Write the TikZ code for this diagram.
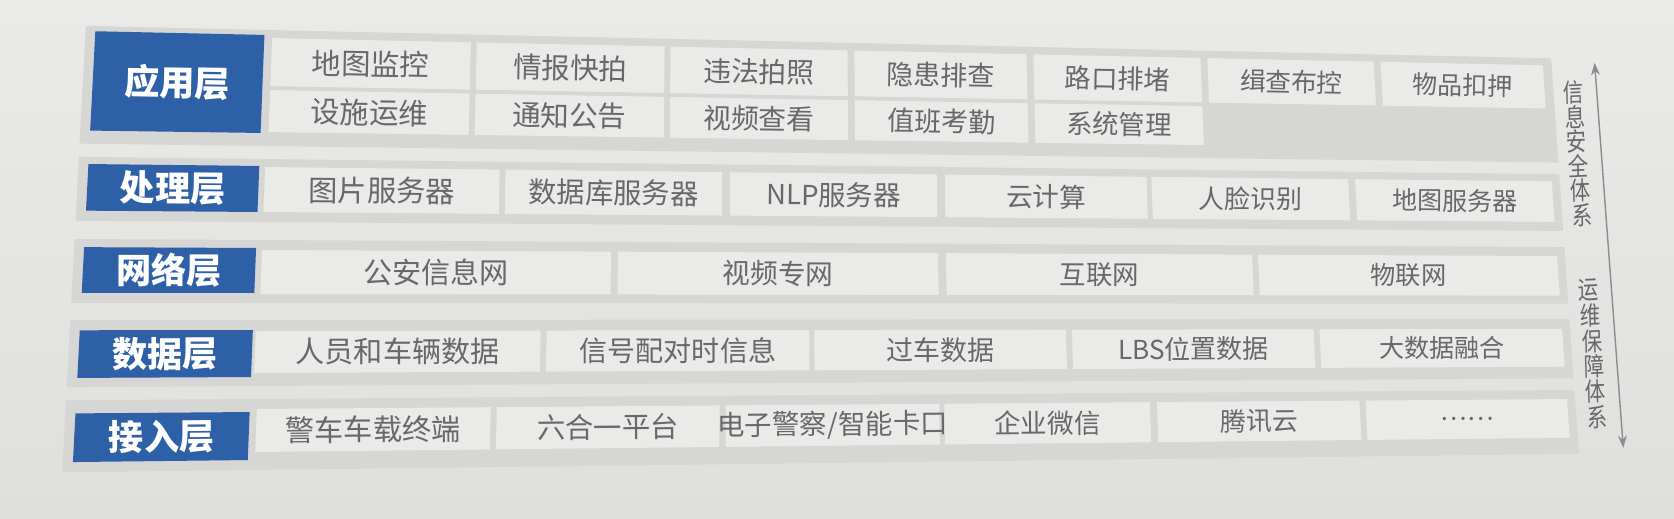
\documentclass[tikz,border=0pt]{standalone}
\usepackage{fontspec}
\newfontfamily\cjk{Noto Sans CJK SC}
\usetikzlibrary{arrows.meta}
\definecolor{pagetop}{HTML}{EAEAE8}
\definecolor{pagebot}{HTML}{DFDFDD}
\definecolor{stripc}{HTML}{D6D6D4}
\definecolor{cellc}{HTML}{EAEAE9}
\definecolor{lblue}{HTML}{2E60A8}
\definecolor{ctext}{HTML}{686868}
\definecolor{arrowgray}{HTML}{8C8C8C}

\pgfkeys{/pcs/.cd, x/.store in=\pcsx, y/.store in=\pcsy}
\tikzdeclarecoordinatesystem{p}{%
  \pgfkeys{/pcs/.cd,x=0,y=0,#1}%
  \pgfmathsetmacro\pcsS{(\pcsx-80)/1520}%
  \pgfmathsetmacro\pcsX{\pcsx+(\pcsy-250)*(-0.053+0.119*\pcsS)}%
  \pgfmathsetmacro\pcsT{(\pcsx-260)/1290}%
  \pgfmathsetmacro\pcsY{\pcsy+\pcsT*(31-0.1*\pcsy)}%
  \pgfpointxy{\pcsX}{\pcsY}%
}

\tikzset{
  cellfill/.style={fill=cellc},
  stripfill/.style={fill=stripc},
  bluefill/.style={fill=lblue},
  celltxt/.style={font=\cjk\fontsize{15.1pt}{18pt}\selectfont, text=ctext, inner sep=0pt},
  lbltxt/.style={font=\cjk\bfseries\fontsize{20pt}{24pt}\selectfont, text=white, inner sep=0pt},
  sidetxt/.style={font=\cjk\fontsize{14.5pt}{17pt}\selectfont, text=ctext, inner sep=0pt, xscale=0.8, rotate=2},
  arr/.style={draw=arrowgray, line width=0.8pt, arrows={Stealth[length=7pt,width=5pt]-Stealth[length=7pt,width=5pt]}}
}

\newcommand\pquad[5]{\fill[#1] (p cs:x=#2,y=#3) -- (p cs:x=#4,y=#3) -- (p cs:x=#4,y=#5) -- (p cs:x=#2,y=#5) -- cycle;}
\newcommand\celltext[5]{%
  \pgfmathsetmacro\tang{-atan((31-0.1*#3)/1290)}%
  \pgfmathsetmacro\tsc{(29.5-6*((#2-80)/1520-0.19))/26.7}%
  \node[#5, rotate=\tang, scale=\tsc] (#1) at (p cs:x=#2,y=#3) {#4};}
\newcommand\cellbox[6]{%
  \pquad{cellfill}{#2}{#3}{#4}{#5}%
  \pgfmathsetmacro\ccx{(#2+#4)/2}\pgfmathsetmacro\ccy{(#3+#5)/2}%
  \celltext{#1}{\ccx}{\ccy}{#6}{celltxt}}
\newcommand\layerlabel[4]{%
  \pquad{bluefill}{84}{#2}{256}{#3}%
  \pgfmathsetmacro\lcy{(#2+#3)/2}%
  \pgfmathsetmacro\tang{-atan((31-0.1*\lcy)/1290)}%
  \node[lbltxt, rotate=\tang] (#1) at (p cs:x=170,y=\lcy) {#4};}

\begin{document}
\begin{tikzpicture}[x=0.02cm, y=-0.02cm]
\useasboundingbox (0,0) rectangle (1674,518);
\shade[top color=pagetop, bottom color=pagebot] (0,0) rectangle (1674,518);

% layer strips
\pquad{stripfill}{74}{30}{1565}{146}
\pquad{stripfill}{74}{159}{1565}{222}
\pquad{stripfill}{74}{240}{1565}{303}
\pquad{stripfill}{74}{320}{1565}{386}
\pquad{stripfill}{74}{399}{1565}{470}

% layer labels
\layerlabel{L1}{35}{133}{应用层}
\layerlabel{L2}{166}{212}{处理层}
\layerlabel{L3}{248}{293}{网络层}
\layerlabel{L4}{330}{377}{数据层}
\layerlabel{L5}{412}{460}{接入层}

% application layer
\cellbox{a1}{264}{38}{466}{86}{地图监控}
\cellbox{a2}{472}{38}{663}{86}{情报快拍}
\cellbox{a3}{669}{38}{849}{86}{违法拍照}
\cellbox{a4}{856}{38}{1031}{86}{隐患排查}
\cellbox{a5}{1038}{38}{1208}{86}{路口排堵}
\cellbox{a6}{1215}{38}{1384}{86}{缉查布控}
\cellbox{a7}{1391}{38}{1556}{86}{物品扣押}
\cellbox{b1}{264}{90}{466}{132}{设施运维}
\cellbox{b2}{472}{90}{663}{132}{通知公告}
\cellbox{b3}{669}{90}{849}{132}{视频查看}
\cellbox{b4}{856}{90}{1031}{132}{值班考勤}
\cellbox{b5}{1038}{90}{1208}{132}{系统管理}

% processing layer
\cellbox{c1}{262}{167}{498}{212}{图片服务器}
\cellbox{c2}{504}{167}{722}{212}{数据库服务器}
\cellbox{c3}{730}{167}{938}{212}{NLP服务器}
\cellbox{c4}{946}{167}{1149}{212}{云计算}
\cellbox{c5}{1154}{167}{1352}{212}{人脸识别}
\cellbox{c6}{1359}{167}{1557}{212}{地图服务器}

% network layer
\cellbox{d1}{262}{250}{611}{294}{公安信息网}
\cellbox{d2}{618}{250}{938}{294}{视频专网}
\cellbox{d3}{946}{250}{1252}{294}{互联网}
\cellbox{d4}{1258}{250}{1557}{294}{物联网}

% data layer
\cellbox{e1}{259}{331}{542}{373}{人员和车辆数据}
\cellbox{e2}{548}{331}{809}{373}{信号配对时信息}
\cellbox{e3}{814}{331}{1064}{373}{过车数据}
\cellbox{e4}{1070}{331}{1310}{373}{LBS位置数据}
\cellbox{e5}{1316}{331}{1557}{373}{大数据融合}

% access layer
\cellbox{f1}{263}{409}{494}{452}{警车车载终端}
\cellbox{f2}{500}{409}{720}{452}{六合一平台}
\cellbox{f3}{726}{409}{937}{452}{电子警察/智能卡口}
\cellbox{f4}{942}{409}{1145}{452}{企业微信}
\cellbox{f5}{1152}{409}{1352}{452}{腾讯云}
\cellbox{f6}{1358}{409}{1557}{452}{……}

% side texts
\foreach \ch [count=\i] in {信,息,安,全,体,系} {
  \pgfmathsetmacro\yy{67+27.5*(\i-1)}
  \node[sidetxt] (s\i) at (p cs:x=1585,y=\yy) {\ch};
}
\foreach \ch [count=\i] in {运,维,保,障,体,系} {
  \pgfmathsetmacro\yy{288+28.3*(\i-1)}
  \node[sidetxt] (t\i) at (p cs:x=1586,y=\yy) {\ch};
}

% arrow
\coordinate (atop) at (p cs:x=1609,y=34);
\coordinate (abot) at (p cs:x=1609,y=464);
\draw[arr] (atop) -- (abot);
\end{tikzpicture}
\end{document}
